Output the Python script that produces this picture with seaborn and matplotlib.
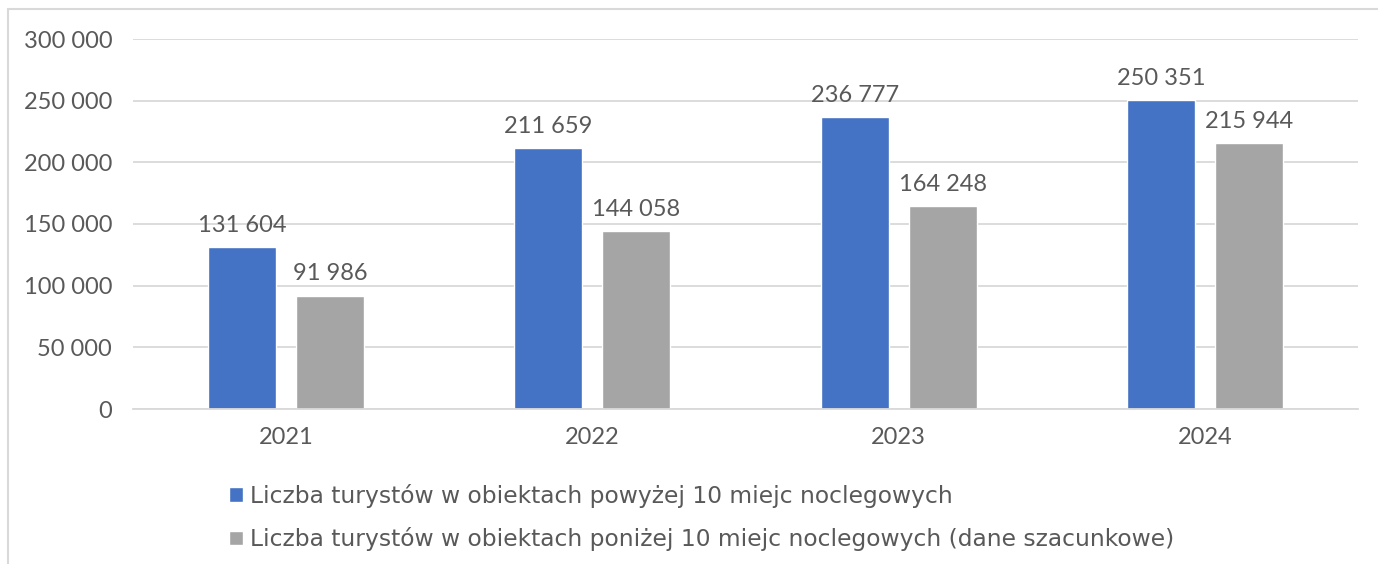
import matplotlib
matplotlib.use('Agg')
import matplotlib.pyplot as plt
from matplotlib.lines import Line2D
from matplotlib.ticker import FuncFormatter
import pandas as pd
import seaborn as sns

years = ['2021', '2022', '2023', '2024']
above_10 = [131604, 211659, 236777, 250351]
below_10 = [91986, 144058, 164248, 215944]
series_names = ['Liczba turystów w obiektach powyżej 10 miejc noclegowych',
                'Liczba turystów w obiektach poniżej 10 miejc noclegowych (dane szacunkowe)']
colors = ['#4472C4', '#A5A5A5']

df = pd.DataFrame({
    'rok': years * 2,
    'liczba': above_10 + below_10,
    'seria': [series_names[0]] * 4 + [series_names[1]] * 4,
})

sns.set_style('white')
plt.rcParams['font.family'] = ['Lato', 'DejaVu Sans']
txt = '#595959'
grid = '#D9D9D9'

fig = plt.figure(figsize=(13.78, 5.64), dpi=100)
ax = fig.add_axes([133 / 1378, 1 - 409 / 564, 1225 / 1378, 370 / 564])

sns.barplot(data=df, x='rok', y='liczba', hue='seria', palette=colors,
            width=0.575, gap=0.227, saturation=1, ax=ax, legend=True)

def fmt(v):
    return f'{int(v):,}'.replace(',', ' ')

for cont in ax.containers:
    ax.bar_label(cont, labels=[fmt(b.get_height()) for b in cont],
                 padding=8, fontsize=17, color=txt)

ax.set_ylim(0, 300000)
ax.set_xlim(-0.5, 3.5)
ax.set_yticks(range(0, 300001, 50000))
ax.yaxis.set_major_formatter(FuncFormatter(lambda v, p: fmt(v)))
ax.yaxis.grid(True, color=grid, lw=1.3)
ax.set_axisbelow(True)
for s in ['top', 'right', 'left']:
    ax.spines[s].set_visible(False)
ax.spines['bottom'].set_color(grid)
ax.spines['bottom'].set_linewidth(1.3)
ax.tick_params(axis='both', length=0, labelsize=17, labelcolor=txt)
ax.tick_params(axis='y', pad=15)
ax.tick_params(axis='x', pad=13)
ax.set_xlabel('')
ax.set_ylabel('')

handles, labels = ax.get_legend_handles_labels()
ax.get_legend().remove()
fig.legend(handles, labels, loc='upper left', bbox_to_anchor=(208 / 1378, 1 - 463 / 564),
           frameon=False, prop={'family': 'DejaVu Sans', 'size': 16.8}, labelcolor=txt,
           handlelength=0.6, handleheight=0.6, handletextpad=0.3, labelspacing=0.82)

fig.add_artist(Line2D([8 / 1378, 8 / 1378], [0, 1 - 9 / 564], transform=fig.transFigure,
                      color=grid, lw=1.5))
fig.add_artist(Line2D([8 / 1378, 1], [1 - 9 / 564, 1 - 9 / 564], transform=fig.transFigure,
                      color=grid, lw=1.5))

fig.savefig('out.png', dpi=100)
